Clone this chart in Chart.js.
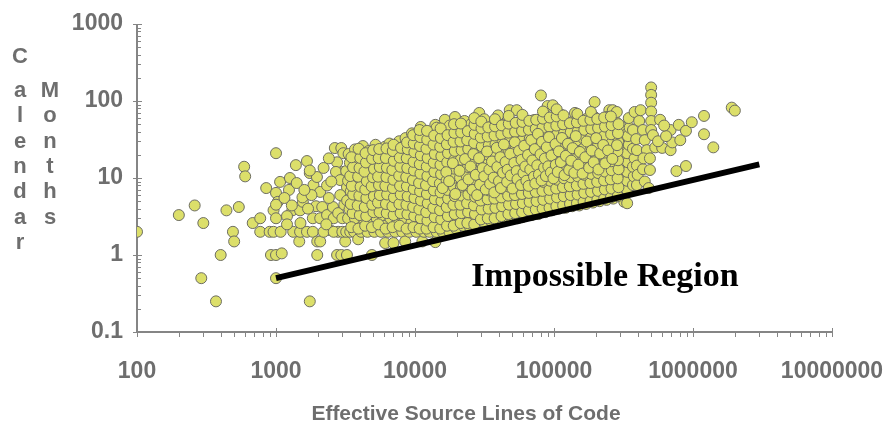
<!DOCTYPE html>
<html>
<head>
<meta charset="utf-8">
<script src="https://cdn.jsdelivr.net/npm/chart.js@4.4.0/dist/chart.umd.min.js"></script>
<style>
  html, body { margin: 0; padding: 0; background: #fff; }
  canvas { display: block; }
</style>
</head>
<body>
<canvas id="sizeChart" width="891" height="433"></canvas>
<script>
// osie i opisy
const xTicks = [100, 1000, 10000, 100000, 1000000, 10000000];
const xTickLabels = ['100', '1000', '10000', '100000', '1000000', '10000000'];
const yTicks = [0.1, 1, 10, 100, 1000];
const yTickLabels = ['0.1', '1', '10', '100', '1000'];
const xTitle = 'Effective Source Lines of Code';
const yTitleLeft = 'Calendar';
const yTitleRight = 'Months';
const regionLabel = 'Impossible Region';

// granica "niemożliwego" obszaru [SLOC, miesiące]
const limitLine = [[1000, 0.5], [3000000, 15]];

// projekty [SLOC, miesiące]
const ptsTiny = [
  [100,2],[200,3.3],[260,4.4],[300,2.6],[290,0.5],[370,0.25],[400,1],[440,3.8],[490,2],[500,1.5],
  [540,4.2],[590,14],[600,10.5],[680,2.6],[770,3],[770,2],[850,7.4],[900,2],[920,1]
];
const pts1k = [
  [1000,1],[1100,1.05],[1000,0.5],[1000,6.4],[1030,4.9],[960,3.8],[1000,3],[960,2],[1080,2],[1070,8.9],
  [1260,10],[1240,7],[1410,8.6],[1390,14.7],[1670,16.6],[1310,3.8],[1490,3.8],[1560,4.9],[1470,1.5],[1330,2],
  [1490,2],[1670,2],[1840,2],[1980,1.5],[2080,1.5],[1980,1],[1750,0.25],[1750,11.6],[1860,8.1],[2080,6.6],
  [1970,10.3],[2330,8],[1940,4.3],[2150,4.2],[1840,3],[2080,3],[2330,3.3],[2450,2.1],[2570,4.2],[2650,24.5],
  [2950,24.5],[3050,21],[2750,16],[3050,12],[2700,12],[2900,9.4],[3240,7.6],[2750,1],[2950,1],[3240,1],
  [3150,1.5],[1000,21],[1000,4.5],[1150,5.5],[1200,3.2],[1300,4.4],[1550,5.6],[1700,4],[1800,6],[1600,7],
  [1750,12.5],[2200,13.5],[2400,5.5],[2500,9],[2600,3],[2800,3.5],[2800,2],[2200,2],[2600,2],[3000,2],
  [2400,18],[2900,6],[3100,4.5],[3000,3],[2300,2.5],[1500,2.6],[1200,2.5]
];
const pts3k = [
  [3200,2],[3420,2],[3300,3],[3380,3.9],[3250,5.1],[3450,6.7],[3300,9.2],[3200,12.3],[3400,15.8],[3330,20.5],
  [3650,2],[3800,2.5],[3700,3],[3620,4.3],[3820,5.6],[3700,7.4],[3760,10.1],[3640,13.2],[3800,17.4],[3700,23.5],[3900,1.6],
  [4100,2],[4250,3],[4080,3.6],[4200,4.9],[4120,6.1],[4300,8.3],[4150,10.6],[4260,14.4],[4100,18.5],[4220,26],
  [4550,2],[4700,2.7],[4620,3.4],[4780,4.6],[4580,5.7],[4700,7.3],[4850,9.7],[4600,12.2],[4750,16.8],[4650,22.4],[4900,1],
  [5100,2],[5300,3],[5180,4],[5350,5.3],[5100,6.9],[5250,8.6],[5400,11.6],[5150,15.4],[5300,19.6],[5200,27],
  [5700,2],[5950,2.4],[5800,3.3],[6000,4.1],[5750,5.5],[5900,7.2],[6050,9.1],[5800,12.2],[5950,16.1],[5850,21.3],[6100,25.5],[6100,1.43],
  [6400,2],[6650,3],[6500,3.8],[6700,5],[6450,6.4],[6600,8.6],[6750,11.2],[6500,14.2],[6700,19.4],[6550,28],
  [7200,2],[7450,2.6],[7300,3.4],[7550,4.4],[7250,5.9],[7400,7.5],[7600,10.2],[7300,12.8],[7500,17.3],[7350,22.6],[7700,30],[7000,1.43],
  [8100,2],[8400,3],[8200,4],[8500,5.2],[8150,6.7],[8350,9],[8600,11.4],[8200,15.3],[8450,20.2],[8300,26],[8550,33],[8500,1.5],
  [9100,2],[9400,2.6],[9200,3.5],[9500,4.5],[9150,5.8],[9350,7.8],[9600,10],[9200,13.4],[9450,17.2],[9300,23.4],[9700,30],[9500,38]
];
const pts10k = [
  [10200,2],[10600,2.5],[10300,3.2],[10800,4.1],[10100,5.3],[10500,6.9],[10900,8.7],[10300,11.4],[10700,14.5],[10200,19.2],[10600,25],[10900,33],[11000,46],
  [11300,1.5],[11600,2],[11400,2.8],[11800,3.6],[11300,4.7],[11700,6],[11500,7.8],[11900,10],[11400,13.1],[11800,17],[11500,22],[11700,29],[11300,38],
  [12700,2],[13100,2.4],[12800,3.1],[13300,4],[12700,5.2],[13100,6.7],[12900,8.6],[13400,11],[12800,14.4],[13200,18.6],[12900,24],[13300,31],[14000,49],
  [14000,1.47],[14300,2],[14700,2.7],[14200,3.5],[14600,4.5],[14400,5.8],[14800,7.5],[14200,9.7],[14600,12.5],[14300,16.2],[14700,21],[14400,27],[14800,35],[14300,45],
  [15800,2],[16300,2.5],[16000,3.2],[16500,4.1],[15900,5.3],[16300,6.9],[16100,8.9],[16600,11.5],[15900,14.8],[16400,19],[16100,25],[16500,32],[16400,57],
  [17700,2],[18200,2.8],[17900,3.6],[18500,4.6],[17800,6],[18300,7.7],[18000,10],[18600,13],[17900,16.8],[18400,21.7],[18100,28],[18600,37],[17800,48],
  [19800,2.2],[20400,3],[20000,3.9],[20700,5],[19900,6.5],[20500,8.4],[20200,10.8],[20800,14],[20000,18],[20600,23.5],[20200,30],[20700,40],[19400,62],
  [22200,2.4],[22900,3.2],[22500,4.1],[23200,5.3],[22300,6.9],[22800,8.9],[22600,11.5],[23300,14.9],[22400,19.3],[23000,25],[22600,32],[23100,42],[22700,55],
  [24900,2.3],[25600,3],[25200,3.8],[26000,4.9],[25000,6.3],[25700,8.2],[25300,10.6],[26100,13.7],[25100,17.7],[25800,23],[25400,29.7],[26000,38.5],[25300,50],
  [27800,2.6],[28700,3.4],[28200,4.4],[29100,5.7],[27900,7.4],[28600,9.6],[28300,12.4],[29200,16],[28000,20.7],[28800,26.8],[28400,34.7],[29000,45],[29000,70]
];
const pts30k = [
  [31200,2.7],[32100,3.5],[31600,4.5],[32500,5.8],[31300,7.5],[32200,9.7],[31700,12.5],[32600,16.2],[31400,21],[32300,27],[31800,35],[32400,45],[31500,58],
  [34900,2.8],[35900,3.6],[35300,4.7],[36400,6.1],[35000,7.9],[36000,10.2],[35500,13.2],[36500,17],[35100,22],[36100,28.5],[35600,37],[36200,48],
  [39100,2.6],[40300,3.8],[39700,4.9],[40800,6.3],[39300,8.2],[40400,10.6],[39800,13.7],[40900,17.7],[39400,23],[40500,29.7],[39900,38.5],[40600,50],[39600,65],
  [43800,3],[45100,3.9],[44500,5],[45700,6.5],[44000,8.4],[45200,10.9],[44600,14.1],[45900,18.2],[44100,23.6],[45400,30.5],[44700,39.5],[45600,51],
  [48000,3],[49100,3.1],[50600,4],[49900,5.2],[51200,6.7],[49300,8.7],[50700,11.2],[50000,14.5],[51400,18.8],[49500,24.3],[50800,31.4],[50100,40.6],[51100,52.5],[48000,76],
  [55000,3],[56700,4.1],[55900,5.3],[57400,6.9],[55300,8.9],[56900,11.5],[56100,14.9],[57600,19.3],[55500,25],[57100,32.3],[56300,41.8],[57300,54],[54000,76],
  [59000,3.1],[61600,3.2],[63500,4.2],[62600,5.4],[64400,7],[61900,9.1],[63700,11.8],[62800,15.3],[64600,19.8],[62100,25.6],[63900,33],[63000,42.8],[64200,55],
  [69000,3.3],[71100,4.3],[70100,5.6],[72200,7.2],[69300,9.3],[71300,12],[70300,15.6],[72400,20.2],[69600,26.1],[71600,33.8],[70500,43.7],[71800,56.5],
  [76000,4.2],[77200,3.4],[79600,4.4],[78500,5.7],[80900,7.4],[77600,9.6],[79900,12.4],[78800,16],[81200,20.7],[78000,26.8],[80200,34.7],[79000,45],[80500,58],[80500,118],
  [86400,3.6],[89200,4.6],[87900,5.9],[90600,7.6],[86900,9.8],[89500,12.7],[88200,16.4],[90900,21.2],[87300,27.4],[89800,35.5],[88500,46],[90200,60],[90000,86]
];
const pts100k = [
  [96700,3.8],[99800,4.9],[98400,6.3],[101500,8.1],[97300,10.5],[100200,13.6],[98800,17.6],[101900,22.8],[97800,29.5],[100600,38],[99200,49],[101000,64],[98000,88],
  [108000,4],[111400,5.1],[109800,6.6],[113300,8.5],[108600,11],[111900,14.2],[110300,18.4],[113800,23.8],[109100,30.8],[112400,39.8],[110800,51.5],[113000,66],
  [121000,4.1],[124700,5.3],[122900,6.8],[126800,8.8],[121500,11.4],[125200,14.7],[123400,19],[127300,24.6],[122000,31.8],[125800,41],[124000,53],
  [135500,4.3],[139700,5.5],[137700,7.1],[142000,9.2],[136100,11.9],[140300,15.4],[138200,19.9],[142600,25.7],[136700,33.2],[140900,43],[138800,55.6],[141500,70],
  [152000,4.4],[156700,5.7],[154500,7.4],[159300,9.6],[152600,12.4],[157400,16],[155000,20.7],[160000,26.8],[153300,34.7],[158100,45],[155700,58],[154000,8.6],
  [170000,4.6],[175300,5.9],[172800,7.6],[178200,9.8],[170700,12.7],[176000,16.4],[173500,21.2],[178900,27.4],[171400,35.5],[176700,46],[174200,59.5],
  [190500,4.8],[196400,6.2],[193600,8],[199700,10.3],[191300,13.3],[197200,17.2],[194400,22.3],[200500,28.8],[192000,37.3],[198000,48.2],[195200,62],[196000,97],
  [213000,5],[219600,6.4],[216500,8.3],[223300,10.7],[213900,13.8],[220500,17.9],[217400,23.1],[224200,29.9],[214800,38.7],[221400,50],
  [238600,5.2],[246000,6.7],[242500,8.7],[250100,11.2],[239600,14.5],[247000,18.7],[243500,24.2],[251100,31.3],[240600,40.5],[248000,52.4],[250000,76],[240000,8.4],
  [267000,5.4],[275300,7],[271400,9],[279900,11.6],[268200,15],[276500,19.4],[272600,25.1],[281000,32.5],[269300,42],[277600,54]
];
const pts300k = [
  [300000,6],[310000,7.8],[300000,10],[315000,13],[320000,17],[305000,22],[310000,29],[315000,37],[300000,48],[265000,76],
  [283000,72],[241000,62],[265000,52],[336000,7],[336000,9.2],[336000,12],[340000,16],[336000,21],[345000,27],[340000,35],
  [350000,45],[345000,60],[370000,8.1],[375000,10.5],[370000,14],[380000,18],[370000,24],[370000,42],[380000,72],[390000,32],
  [395000,8.1],[395000,14.5],[395000,23],[400000,11],[410000,55],[420000,76],[437000,13],[437000,42],[450000,31],[466000,23],
  [440000,18],[450000,9],[480000,7.4],[490000,12.7],[490000,18],[500000,150],[500000,120],[500000,95],[500000,73],[500000,55],
  [500000,42],[515000,36],[535000,25],[580000,57],[600000,24.6],[690000,42],[690000,23],[710000,29],[790000,49],[810000,31],
  [890000,41],[980000,53],[1200000,64],[1200000,37],[1400000,25],[1900000,82],[2000000,75],[890000,14.3],[760000,12.3],[320000,4.9],
  [336000,4.7],[560000,30],[640000,35],[620000,48]
];
// gęsty środek chmury (3k–30k)
const ptsCoreA = [
  [3480,2.3],[3560,3.5],[3450,4.6],[3590,6.1],[3510,7.9],[3420,10.6],[3580,13.8],[3490,18.6],
  [3920,2.2],[4010,3.3],[3870,4.4],[3980,5.9],[4060,7.7],[3900,10.4],[3990,13.5],[4040,18.2],[3930,24],
  [4380,2.4],[4460,3.2],[4350,4.2],[4470,5.5],[4390,7.1],[4500,9.1],[4330,12.1],[4440,15.9],[4410,21],
  [4900,2.3],[5020,3.6],[4930,4.5],[5060,5.8],[4880,7.8],[4990,10.2],[5070,13.1],[4920,17.7],[5000,23],
  [5460,2.5],[5560,3.6],[5420,4.8],[5590,6],[5510,8.1],[5430,10.4],[5580,13.9],[5480,18.1],[5530,23.8],
  [6150,2.2],[6260,3.5],[6180,4.6],[6300,6.1],[6120,7.9],[6230,10.3],[6280,13.6],[6170,18.2],[6240,24.2],
  [6900,2.3],[7020,3.3],[6880,4.3],[7060,5.6],[6940,7.4],[7000,9.5],[6870,12.7],[7040,16.7],[6920,22.4],[7010,27],
  [7750,2.4],[7880,3.5],[7720,4.6],[7900,6.1],[7810,7.9],[7700,10.7],[7860,14],[7780,18.4],[7930,24.6],
  [8700,2.2],[8820,3.4],[8680,4.5],[8860,5.8],[8740,7.8],[8650,10.3],[8800,13.5],[8720,18.1],[8880,23.6],[8770,29],
  [9750,2.3],[9880,3.2],[9700,4.2],[9920,5.5],[9790,7.2],[9660,9.4],[9840,12.5],[9760,16.2],[9900,21.6],[9800,28],[9700,36],
  [10800,2.2],[11000,3],[10750,3.9],[11050,5.1],[10880,6.7],[10700,8.6],[10950,11.4],[10830,15.1],[11020,19.7],[10860,26],[10920,34],[10780,42],
  [12100,2.2],[12300,2.8],[12050,3.6],[12350,4.7],[12180,6.2],[12000,8.1],[12280,10.6],[12150,14.1],[12330,18.2],[12090,24],[12250,31.5],[12200,41],
  [13600,2.3],[13850,3.1],[13550,4.1],[13900,5.3],[13680,6.9],[13500,9.1],[13790,12],[13640,15.8],[13880,20.5],[13600,27.2],[13750,35.5],
  [15200,2.2],[15450,2.9],[15150,3.8],[15500,5],[15280,6.5],[15100,8.5],[15400,11.2],[15250,14.8],[15480,19.2],[15180,25.4],[15350,33],[15300,44],
  [17000,2.4],[17250,3.2],[16900,4.2],[17300,5.4],[17080,7],[16880,9.3],[17200,12.3],[17050,16],[17280,21],[16950,27.5],[17150,36],
  [19000,2.4],[19300,3.4],[18900,4.5],[19350,5.8],[19080,7.6],[18850,10],[19250,13.2],[19050,17],[19320,22.5],[18950,29.5],[19200,38.5],[19100,50],
  [21300,2.6],[21600,3.5],[21200,4.5],[21700,5.9],[21380,7.7],[21100,10.1],[21550,13.3],[21350,17.3],[21650,22.9],[21250,29.8],[21500,39],[21400,51],
  [23800,2.6],[24100,3.6],[23700,4.7],[24200,6.1],[23880,8],[23600,10.5],[24050,13.9],[23850,18],[24150,23.8],[23750,31],[24000,40.6],
  [26700,2.5],[27000,3.4],[26600,4.4],[27100,5.7],[26780,7.4],[26500,9.7],[26950,12.8],[26750,16.5],[27050,21.9],[26650,28.5],[26900,37.4],[26800,49],[26700,60]
];
// gęsty środek chmury (30k–300k)
const ptsCoreB = [
  [29800,2.9],[30200,3.9],[29700,5.1],[30400,6.7],[29900,8.7],[29600,11.4],[30300,15],[29850,19.6],[30250,25.8],[29750,33.6],[30100,44],[30000,54],
  [33400,3],[33900,4],[33300,5.3],[34000,6.9],[33550,9],[33200,11.8],[33800,15.5],[33500,20.2],[33950,26.5],[33350,34.6],[33700,45.4],
  [37400,3],[37900,4.1],[37300,5.4],[38000,7.1],[37550,9.3],[37200,12.1],[37800,15.9],[37500,20.9],[37950,27.3],[37350,35.7],[37700,46.8],[37600,58],
  [41900,3.2],[42400,4.3],[41800,5.6],[42600,7.3],[42050,9.6],[41700,12.5],[42300,16.4],[42000,21.6],[42500,28.1],[41850,36.8],[42200,48.2],
  [47000,3.4],[47500,4.5],[46800,5.9],[47700,7.7],[47150,10.1],[46700,13.2],[47400,17.3],[47100,22.7],[47600,29.6],[46900,38.8],[47300,50.8],[47200,64],
  [52600,3.5],[53300,4.6],[52400,6],[53500,7.9],[52850,10.3],[52300,13.5],[53200,17.8],[52800,23.2],[53400,30.3],[52500,39.7],[53000,52],
  [59000,3.6],[59700,4.7],[58800,6.2],[59900,8.1],[59250,10.6],[58700,13.9],[59600,18.3],[59200,23.8],[59800,31.2],[58900,40.8],[59400,53.5],[59300,66],
  [66100,3.8],[66800,4.9],[65900,6.4],[67100,8.4],[66350,11],[65700,14.4],[66700,18.9],[66300,24.6],[66900,32.2],[66000,42.2],[66500,55.3],
  [74000,3.9],[74900,5],[73800,6.6],[75200,8.6],[74350,11.3],[73600,14.8],[74700,19.5],[74300,25.4],[75000,33.2],[73900,43.5],[74500,57],
  [82900,4],[83800,5.2],[82600,6.8],[84100,8.9],[83250,11.7],[82400,15.3],[83700,20.1],[83200,26.2],[83900,34.3],[82800,45],[83400,59],[83300,73],
  [92900,4.1],[93900,5.4],[92600,7],[94200,9.2],[93250,12],[92300,15.8],[93700,20.7],[93200,27.1],[94000,35.5],[92800,46.5],[93400,61],
  [104000,4.3],[105200,5.6],[103700,7.3],[105500,9.5],[104400,12.5],[103400,16.4],[105000,21.4],[104300,28],[105300,36.7],[103900,48],[104600,63],[104500,78],
  [116400,4.4],[117700,5.8],[116100,7.6],[118100,9.9],[116900,13],[115800,17],[117500,22.3],[116800,29],[117900,38],[116300,49.8],[117100,65],
  [130400,4.6],[131800,6],[130000,7.8],[132200,10.2],[130900,13.4],[129700,17.5],[131600,22.9],[130800,30],[132000,39.3],[130200,51.5],
  [146300,4.7],[147900,6.1],[145900,8],[148400,10.5],[146900,13.7],[145500,18],[147700,23.5],[146800,30.8],[148100,40.3],[146200,52.8],[147200,68],
  [163200,4.9],[165000,6.4],[162800,8.4],[165500,11],[163900,14.4],[162300,18.8],[164700,24.6],[163800,32.2],[165200,42.2],[163000,55.3],
  [183100,5],[185100,6.6],[182600,8.6],[185700,11.3],[183900,14.8],[182100,19.4],[184800,25.4],[183700,33.2],[185400,43.5],[182900,57],[184300,72],
  [205000,5.2],[207300,6.8],[204500,8.9],[207900,11.6],[205900,15.2],[203900,19.9],[206900,26],[205700,34],[207600,44.6],[204800,58.4],
  [229800,5.4],[232400,7.1],[229300,9.3],[233100,12.1],[230900,15.8],[228600,20.7],[232000,27.1],[230700,35.5],[232800,46.5],[229600,61],
  [256700,5.6],[259600,7.3],[256100,9.6],[260400,12.6],[257900,16.5],[255400,21.6],[259100,28.3],[257700,37],[260000,48.5],[256500,63],
  [287500,5.8],[290800,7.6],[286900,9.9],[291600,13],[288800,17],[286100,22.3],[290200,29.2],[288600,38.2],[291200,50]
];
// najgęstsze jądro
const ptsCoreC = [
  [15800,7.4],[16800,11.9],[17600,9.1],[18700,15.6],[19500,6.2],[20900,12.4],[21900,8.1],[22900,17.6],[24300,9.6],[25100,14.1],
  [25900,7],[26300,20.4],[27400,11],[28000,6],[28900,18.1],[29400,8.2],[30700,13.4],[31500,10.5],[32300,7.1],[33000,22.1],
  [34300,12.9],[34700,8.4],[35800,16.4],[36800,10.1],[37200,6.5],[38700,24.6],[39100,13.9],[40200,9.1],[41100,18.6],[41500,7.4],
  [43000,11.7],[43600,27.3],[44800,16.1],[46000,8.9],[46400,12.8],[48400,20.6],[48900,10.8],[50300,7.3],[51800,15.7],[52200,29.1],
  [53900,12.3],[54600,9.6],[56000,22.5],[57900,8.1],[58400,17.2],[60300,11.6],[61100,26.2],[62200,14.1],[63300,9.2],[65000,19.9],
  [65700,7.9],[67500,12.9],[68600,31],[69900,16.9],[71800,10.4],[72800,23.7],[73400,8.5],[75800,14.6],[76600,37.4],[77900,11.1],
  [80000,20.3],[81500,9.3],[82000,29.5],[84900,13.6],[86000,17.9],[87500,10.6],[88800,25.1],[91000,14.2],[92000,34],[95000,11.8],
  [96000,19.6],[99000,9.9],[102500,27.6],[103000,14.8],[106500,12],[108500,22.2],[112000,16.1],[114000,33.1],[119000,10.9],[121800,19.4],
  [126000,27.8],[128500,12.7],[133000,16.8],[136000,24.4],[140000,11.7],[143500,35],[150000,14.9],[153500,21.8],[160500,11.4],[168000,18.6],
  [172000,29.8],[179000,13.6],[187000,22.7],[193000,16],[201000,32.9],[209000,12.9],[215000,20.8],[226000,26.8],[234000,15.5],[245000,22.8],
  [263000,17.7],[284000,26.7]
];

const allPts = [...ptsTiny, ...pts1k, ...pts3k, ...pts10k, ...pts30k, ...pts100k, ...pts300k,
                ...ptsCoreA, ...ptsCoreB, ...ptsCoreC];

const grayText = '#6e6e6e';
const axisGray = '#858585';

// Osie, podziałki i opisy rysowane ręcznie
const axesPlugin = {
  id: 'axesPlugin',
  beforeDatasetsDraw(chart) {
    const { ctx, scales: { x, y } } = chart;
    const left = x.getPixelForValue(xTicks[0]);
    const right = x.getPixelForValue(xTicks[xTicks.length - 1]);
    const bottom = y.getPixelForValue(yTicks[0]);
    const top = y.getPixelForValue(yTicks[yTicks.length - 1]);
    ctx.save();
    ctx.strokeStyle = axisGray;
    ctx.lineWidth = 2;
    ctx.beginPath();
    ctx.moveTo(left, top); ctx.lineTo(left, bottom);
    ctx.moveTo(left, bottom); ctx.lineTo(right, bottom);
    ctx.stroke();
    ctx.lineWidth = 1;
    ctx.beginPath();
    // y: główne na krzyż, pomocnicze do środka
    yTicks.forEach((v, i) => {
      const py = Math.round(y.getPixelForValue(v)) + 0.5;
      ctx.moveTo(left - 4, py); ctx.lineTo(left + 5, py);
      if (i < yTicks.length - 1) {
        for (let m = 2; m <= 9; m++) {
          const pm = Math.round(y.getPixelForValue(v * m)) + 0.5;
          ctx.moveTo(left, pm); ctx.lineTo(left + 4, pm);
        }
      }
    });
    // x: główne na krzyż, pomocnicze w dół
    xTicks.forEach((v, i) => {
      const px = Math.round(x.getPixelForValue(v)) + 0.5;
      ctx.moveTo(px, bottom - 4); ctx.lineTo(px, bottom + 5);
      if (i < xTicks.length - 1) {
        for (let m = 2; m <= 9; m++) {
          const pm = Math.round(x.getPixelForValue(v * m)) + 0.5;
          ctx.moveTo(pm, bottom); ctx.lineTo(pm, bottom + 5);
        }
      }
    });
    ctx.stroke();
    ctx.restore();
  },
  afterDraw(chart) {
    const { ctx } = chart;
    ctx.save();
    ctx.fillStyle = grayText;
    ctx.font = 'bold 22px "Liberation Sans", Arial, sans-serif';
    ctx.textAlign = 'center';
    ctx.textBaseline = 'alphabetic';
    // pionowy tytuł osi Y – litera pod literą
    [...yTitleLeft].forEach((ch, i) => {
      const base = i === 0 ? 63 : 97 + (i - 1) * 25.3;
      ctx.fillText(ch, 20, base);
    });
    [...yTitleRight].forEach((ch, i) => {
      ctx.fillText(ch, 50, 97 + i * 25.3);
    });
    // tytuł osi X
    ctx.font = 'bold 21px "Liberation Sans", Arial, sans-serif';
    ctx.fillText(xTitle, 466, 420);
    // napis w obszarze
    ctx.fillStyle = '#000';
    ctx.font = 'bold 34px "Liberation Serif", "Times New Roman", serif';
    ctx.fillText(regionLabel, 605, 286);
    ctx.restore();
  }
};

const ctx = document.getElementById('sizeChart').getContext('2d');
new Chart(ctx, {
  type: 'scatter',
  data: {
    datasets: [
      {
        type: 'line',
        data: limitLine.map(p => ({ x: p[0], y: p[1] })),
        borderColor: '#000',
        borderWidth: 6,
        pointRadius: 0,
        fill: false,
        order: 0
      },
      {
        data: allPts.map(p => ({ x: p[0], y: p[1] })),
        backgroundColor: '#dcdf6a',
        borderColor: '#6d6d62',
        borderWidth: 1,
        pointRadius: 5.5,
        order: 1
      }
    ]
  },
  options: {
    responsive: false,
    animation: false,
    devicePixelRatio: 1,
    layout: { padding: { left: 0, right: 59, top: 24, bottom: 0 } },
    plugins: { legend: { display: false }, tooltip: { enabled: false } },
    scales: {
      x: {
        type: 'logarithmic',
        min: xTicks[0],
        max: xTicks[xTicks.length - 1],
        afterBuildTicks: s => { s.ticks = xTicks.map(v => ({ value: v })); },
        afterFit: s => { s.height = 101; s.paddingLeft = 0; s.paddingRight = 0; },
        grid: { display: false, drawTicks: false },
        border: { display: false },
        ticks: {
          autoSkip: false,
          maxRotation: 0,
          padding: 26,
          color: grayText,
          font: { family: '"Liberation Sans", Arial, sans-serif', size: 23, weight: 'bold' },
          callback: (v, i) => xTickLabels[i]
        }
      },
      y: {
        type: 'logarithmic',
        min: yTicks[0],
        max: yTicks[yTicks.length - 1],
        afterBuildTicks: s => { s.ticks = yTicks.map(v => ({ value: v })); },
        afterFit: s => { s.width = 137; s.paddingTop = 0; s.paddingBottom = 0; },
        grid: { display: false, drawTicks: false },
        border: { display: false },
        ticks: {
          autoSkip: false,
          padding: 14,
          color: grayText,
          font: { family: '"Liberation Sans", Arial, sans-serif', size: 23, weight: 'bold' },
          callback: (v, i) => yTickLabels[i]
        }
      }
    }
  },
  plugins: [axesPlugin]
});
</script>
</body>
</html>
